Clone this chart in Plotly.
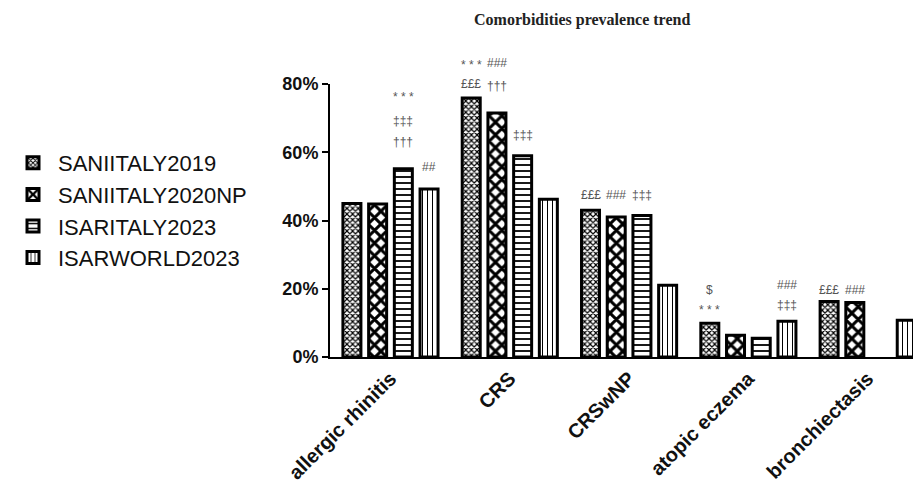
import plotly.graph_objects as go

categories = ["allergic rhinitis", "CRS", "CRSwNP", "atopic eczema", "bronchiectasis"]
series_names = ["SANIITALY2019", "SANIITALY2020NP", "ISARITALY2023", "ISARWORLD2023"]
sani2019 = [45.0, 75.9, 43.0, 9.9, 16.3]
sani2020np = [44.8, 71.5, 41.0, 6.4, 16.0]
isaritaly2023 = [55.2, 59.0, 41.5, 5.5, None]
isarworld2023 = [49.2, 46.2, 21.0, 10.5, 10.8]
series_values = [sani2019, sani2020np, isaritaly2023, isarworld2023]
y_tickvals = [0, 20, 40, 60, 80]
y_ticktext = ["0%", "20%", "40%", "60%", "80%"]

# significance marks: (category index, series index, text, pixel gap above bar top)
sig_marks = [
    (0, 2, "†††", 27), (0, 2, "‡‡‡", 48), (0, 2, "* * *", 72),
    (0, 3, "##", 22),
    (1, 0, "£££", 14), (1, 0, "* * *", 33),
    (1, 1, "†††", 27), (1, 1, "###", 50),
    (1, 2, "‡‡‡", 21),
    (2, 0, "£££", 15), (2, 1, "###", 22), (2, 2, "‡‡‡", 20),
    (3, 0, "* * *", 13), (3, 0, "$", 33),
    (3, 3, "‡‡‡", 16), (3, 3, "###", 36),
    (4, 0, "£££", 11), (4, 1, "###", 12),
]

patterns = [
    dict(shape="x", size=4, solidity=0.5),
    dict(shape="x", size=9, solidity=0.55),
    dict(shape="-", size=6, solidity=0.3),
    dict(shape="|", size=5, solidity=0.2),
]

fig = go.Figure()
for name, vals, pat in zip(series_names, series_values, patterns):
    fig.add_trace(go.Bar(
        x=categories, y=vals, name=name, legendgroup=name,
        marker=dict(color="white", line=dict(color="black", width=3),
                    pattern=dict(shape=pat["shape"], size=pat["size"], solidity=pat["solidity"],
                                 fgcolor="black", bgcolor="white", fillmode="replace")),
    ))

slot_px = 25.7
for ci, si, txt, gap in sig_marks:
    v = series_values[si][ci]
    fig.add_annotation(
        x=categories[ci], y=v, xref="x", yref="y", text=txt, showarrow=False,
        xshift=(si - 1.5) * slot_px, yshift=gap, yanchor="middle",
        font=dict(family="Liberation Sans, Arial", size=12, color="#555555"),
    )

# page body has an 8px margin, so the figure is laid out 8px smaller
W, H = 913, 475
PLOT_TOP, PLOT_H = 76, 275

fig.add_annotation(
    text="Comorbidities prevalence trend", xref="paper", yref="paper",
    x=(574 - 322) / 591, y=1 + (PLOT_TOP - 12) / PLOT_H, showarrow=False,
    xanchor="center", yanchor="middle",
    font=dict(family="Liberation Serif, Times New Roman", size=16, color="#222222", weight="bold"),
)

fig.update_layout(
    width=W, height=H,
    margin=dict(l=322, r=0, t=PLOT_TOP, b=H - PLOT_TOP - PLOT_H),
    paper_bgcolor="white", plot_bgcolor="white",
    barmode="group", bargap=0.138, bargroupgap=0.3,
    font=dict(family="Liberation Sans, Arial", color="black"),
    showlegend=True,
    legend=dict(
        xref="container", yref="container", x=0.0, y=1 - 202.5 / H,
        xanchor="left", yanchor="middle",
        font=dict(size=22, color="#111111"), tracegroupgap=0, itemwidth=40,
        bgcolor="rgba(0,0,0,0)",
    ),
    xaxis=dict(
        range=[-0.507, 4.447], showline=True, linecolor="black", linewidth=2,
        ticks="", tickangle=-45, showgrid=False, zeroline=False,
        tickfont=dict(size=20, weight="bold", color="#111111"),
    ),
    yaxis=dict(
        range=[0, 80], tickmode="array", tickvals=y_tickvals, ticktext=y_ticktext,
        showline=True, linecolor="black", linewidth=2, ticks="outside",
        ticklen=6, tickwidth=2, tickcolor="black", showgrid=False, zeroline=False,
        tickfont=dict(size=18, weight="bold", color="#111111"),
    ),
)

fig.write_html("out.html")
